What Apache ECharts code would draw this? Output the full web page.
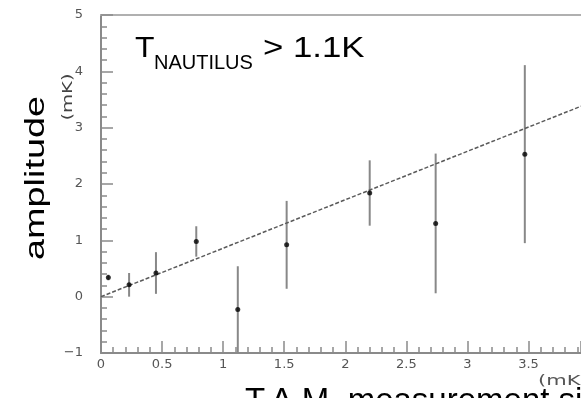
<!DOCTYPE html>
<html>
<head>
<meta charset="utf-8">
<script src="https://cdn.jsdelivr.net/npm/echarts@6/dist/echarts.min.js"></script>
<style>
html,body{margin:0;padding:0;background:#fff;}
#c{width:581px;height:398px;}
</style>
</head>
<body>
<div id="c"></div>
<script>
// Data
var pointX   = [0.06, 0.23, 0.45, 0.78, 1.12, 1.52, 2.20, 2.74, 3.47];
var pointY   = [0.34, 0.21, 0.42, 0.98, -0.23, 0.92, 1.84, 1.30, 2.53];
var pointErr = [0.05, 0.21, 0.37, 0.27, 0.77, 0.78, 0.58, 1.24, 1.58];
var fitX = [0, 3.93];
var fitY = [0.0, 3.38];
var xTicks = [0, 0.5, 1, 1.5, 2, 2.5, 3, 3.5];
var yTicks = [-1, 0, 1, 2, 3, 4, 5];

var points = pointX.map(function (x, i) { return [x, pointY[i]]; });
var bars = pointX.map(function (x, i) { return [x, pointY[i] - pointErr[i], pointY[i] + pointErr[i]]; });
var fit = fitX.map(function (x, i) { return [x, fitY[i]]; });

var chart = echarts.init(document.getElementById('c'), null, {renderer: 'canvas'});
var tickFont = 'DejaVu Sans';
var axisGrey = '#8a8a8a';
chart.setOption({
  animation: false,
  backgroundColor: '#fff',
  grid: {left: 101, top: 15, right: 0, bottom: 45, show: false},
  xAxis: [{
    type: 'value', min: 0, max: 3.93, interval: 0.5,
    axisLine: {onZero: false, lineStyle: {color: axisGrey, width: 2}},
    axisTick: {inside: true, length: 12, lineStyle: {color: axisGrey, width: 1.5}},
    minorTick: {show: true, splitNumber: 5, length: 6, lineStyle: {color: axisGrey, width: 1.5}},
    splitLine: {show: false},
    axisLabel: {color: '#555', fontSize: 13, fontFamily: tickFont, margin: 5, showMaxLabel: false,
      formatter: function (v) { return xTicks.indexOf(v) >= 0 ? String(v) : ''; }}
  }, {
    type: 'value', position: 'top', min: 0, max: 3.93,
    axisLine: {onZero: false, lineStyle: {color: '#b0b0b0', width: 2}},
    axisTick: {show: false}, axisLabel: {show: false}, splitLine: {show: false}
  }],
  yAxis: {
    type: 'value', min: -1, max: 5, interval: 1,
    axisLine: {onZero: false, lineStyle: {color: axisGrey, width: 2}},
    axisTick: {inside: true, length: 12, lineStyle: {color: axisGrey, width: 1.5}},
    minorTick: {show: true, splitNumber: 5, length: 6, lineStyle: {color: axisGrey, width: 1.5}},
    splitLine: {show: false},
    axisLabel: {color: '#555', fontSize: 13, fontFamily: tickFont, margin: 18,
      formatter: function (v) { return yTicks.indexOf(v) < 0 ? '' : (v < 0 ? '\u2212' + (-v) : String(v)); }}
  },
  series: [
    {
      type: 'custom',
      data: bars,
      clip: true,
      renderItem: function (params, api) {
        var top = api.coord([api.value(0), api.value(2)]);
        var bot = api.coord([api.value(0), api.value(1)]);
        return {type: 'line', shape: {x1: top[0], y1: top[1], x2: bot[0], y2: bot[1]},
          style: {stroke: '#888', lineWidth: 2}};
      },
      z: 2
    },
    {
      type: 'line', data: fit, symbol: 'none', clip: true,
      lineStyle: {color: '#5a5a5a', width: 1.5, type: [4, 2]}, z: 3
    },
    {
      type: 'scatter', data: points, symbol: 'circle', symbolSize: 5,
      itemStyle: {color: '#000'}, z: 4
    }
  ],
  graphic: [
    {type: 'text', x: 135, y: 63, scaleX: 1.1, style: {text: 'T', font: '29px "Liberation Sans"', fill: '#000', textVerticalAlign: 'bottom'}},
    {type: 'text', x: 154, y: 73, style: {text: 'NAUTILUS', font: '20px "Liberation Sans"', fill: '#000', textVerticalAlign: 'bottom'}},
    {type: 'text', x: 263, y: 63, scaleX: 1.2, style: {text: '> 1.1K', font: '29px "Liberation Sans"', fill: '#000', textVerticalAlign: 'bottom'}},
    {type: 'text', x: 37, y: 178, rotation: Math.PI / 2, scaleX: 1.4, style: {text: 'amplitude', font: '27px "Liberation Sans"', fill: '#000', textAlign: 'center', textVerticalAlign: 'middle'}},
    {type: 'text', x: 68, y: 97, rotation: Math.PI / 2, scaleX: 1.4, style: {text: '(mK)', font: '14px "DejaVu Sans"', fill: '#444', textAlign: 'center', textVerticalAlign: 'middle'}},
    {type: 'text', x: 538, y: 381, scaleX: 1.5, style: {text: '(mK)', font: '14px "DejaVu Sans"', fill: '#555', textAlign: 'left', textVerticalAlign: 'middle'}},
    {type: 'text', x: 245, y: 385, style: {text: 'T.A.M. measurement signal', font: '33px "Liberation Sans"', fill: '#000', textAlign: 'left', textVerticalAlign: 'top'}}
  ]
});
</script>
</body>
</html>
